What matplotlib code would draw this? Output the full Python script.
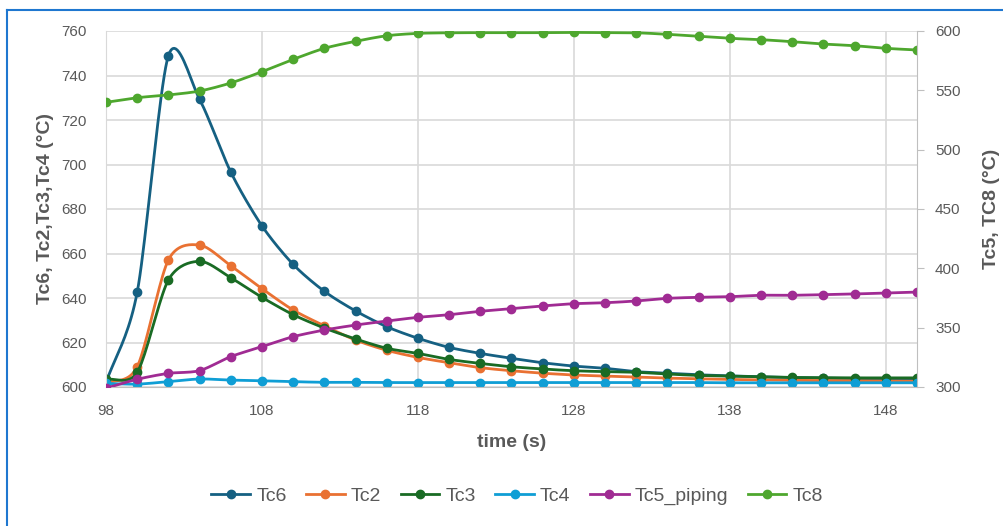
import numpy as np
import matplotlib
matplotlib.use("Agg")
from matplotlib import pyplot as plt
from matplotlib.lines import Line2D

plt.rcParams['font.family'] = ['Liberation Sans', 'DejaVu Sans']

time_s = [98, 100, 102, 104, 106, 108, 110, 112, 114, 116, 118, 120, 122, 124,
          126, 128, 130, 132, 134, 136, 138, 140, 142, 144, 146, 148, 150]

tc6 = [602.0, 642.6, 748.9, 729.3, 696.6, 672.4, 655.1, 643.0, 634.2, 627.1, 621.9, 617.8, 615.1, 612.9,
       610.9, 609.4, 608.4, 606.9, 606.2, 605.5, 605.0, 604.6, 604.2, 604.0, 603.8, 603.6, 603.5]
tc2 = [601.5, 609.1, 657.1, 663.8, 654.5, 644.2, 634.6, 627.5, 621.1, 616.5, 613.3, 610.9, 608.7, 607.3,
       606.2, 605.4, 604.9, 604.5, 604.0, 603.7, 603.4, 603.2, 603.0, 602.9, 602.8, 602.7, 602.6]
tc3 = [603.4, 606.6, 648.1, 656.5, 649.1, 640.3, 632.5, 626.5, 621.6, 617.4, 615.1, 612.4, 610.6, 609.1,
       608.1, 607.3, 606.9, 606.6, 605.8, 605.2, 604.9, 604.6, 604.3, 604.2, 604.1, 604.1, 604.1]
tc4 = [601.6, 601.3, 602.4, 603.6, 603.1, 602.8, 602.4, 602.1, 602.1, 602.0, 602.0, 602.0, 602.0, 602.0,
       602.0, 602.0, 602.0, 602.0, 602.0, 602.0, 601.9, 601.9, 601.9, 601.9, 601.9, 601.9, 601.9]
tc5 = [299.0, 306.5, 311.5, 313.8, 325.6, 334.0, 342.4, 348.0, 352.2, 355.6, 358.7, 360.9, 363.8, 366.0,
       368.3, 370.2, 371.0, 372.5, 374.7, 375.6, 376.1, 377.3, 377.3, 377.8, 378.4, 379.2, 380.0]
tc8 = [539.9, 543.8, 546.1, 549.4, 556.2, 565.7, 576.1, 585.4, 591.3, 596.0, 598.0, 598.5, 598.6, 598.6,
       598.6, 598.8, 598.6, 598.5, 597.2, 595.5, 593.8, 592.7, 591.0, 589.0, 587.6, 585.4, 584.0]

left_names = ['Tc6', 'Tc2', 'Tc3', 'Tc4']
right_names = ['Tc5_piping', 'Tc8']
colors = {'Tc6': '#156082', 'Tc2': '#E97132', 'Tc3': '#196B24',
          'Tc4': '#0F9ED5', 'Tc5_piping': '#A02B93', 'Tc8': '#4EA72E'}


def smooth(x, y, n=20, k=0.42):
    # cardinal spline, close to excel's smoothed line (k=0.5 -> catmull-rom)
    x = np.asarray(x, float)
    y = np.asarray(y, float)
    xp = np.concatenate([[2 * x[0] - x[1]], x, [2 * x[-1] - x[-2]]])
    yp = np.concatenate([[2 * y[0] - y[1]], y, [2 * y[-1] - y[-2]]])
    t = np.linspace(0, 1, n, endpoint=False)
    h00 = 2 * t ** 3 - 3 * t ** 2 + 1
    h10 = t ** 3 - 2 * t ** 2 + t
    h01 = -2 * t ** 3 + 3 * t ** 2
    h11 = t ** 3 - t ** 2
    xs, ys = [], []
    for i in range(1, len(xp) - 2):
        for arr, out in ((xp, xs), (yp, ys)):
            m1 = k * (arr[i + 1] - arr[i - 1])
            m2 = k * (arr[i + 2] - arr[i])
            out.extend(h00 * arr[i] + h10 * m1 + h01 * arr[i + 1] + h11 * m2)
    xs.append(x[-1])
    ys.append(y[-1])
    return np.array(xs), np.array(ys)


fig = plt.figure(figsize=(10.04, 5.26), dpi=100)
ax = fig.add_axes([106 / 1004, 1 - 387 / 526, (917 - 106) / 1004, (387 - 31) / 526])
ax2 = ax.twinx()

series = {'Tc6': tc6, 'Tc2': tc2, 'Tc3': tc3, 'Tc4': tc4, 'Tc5_piping': tc5, 'Tc8': tc8}
handles = []
for name in left_names + right_names:
    a = ax if name in left_names else ax2
    xs, ys = smooth(time_s, series[name])
    a.plot(xs, ys, color=colors[name], lw=2)
    a.plot(time_s, series[name], 'o', color=colors[name], ms=6)
    handles.append(Line2D([], [], color=colors[name], lw=2, marker='o', ms=6))

grey = '#595959'
ax.set_xlim(98, 150)
ax.set_ylim(600, 760)
ax2.set_ylim(300, 600)
ax.set_xticks(np.arange(98, 150, 10))
ax.set_yticks(np.arange(600, 761, 20))
ax2.set_yticks(np.arange(300, 601, 50))
ax.grid(True, color='#d9d9d9', lw=1.2)
ax.set_axisbelow(True)
for a in (ax, ax2):
    for s in a.spines.values():
        s.set_visible(False)
ax.spines['bottom'].set_visible(True)
ax.spines['bottom'].set_color('#bfbfbf')
ax.spines['left'].set_visible(True)
ax.spines['left'].set_color('#d9d9d9')
ax2.spines['right'].set_visible(True)
ax2.spines['right'].set_color('#bfbfbf')
ax.tick_params(axis='both', length=0, labelsize=11, labelcolor=grey)
ax.tick_params(axis='y', pad=14)
ax.tick_params(axis='x', pad=12)
ax2.tick_params(axis='y', length=5, color='#bfbfbf', labelsize=11, labelcolor=grey, pad=8)

ax.set_xlabel('time (s)', fontsize=14, fontweight='bold', color=grey, labelpad=12)
ax.set_ylabel('Tc6, Tc2,Tc3,Tc4 (°C)', fontsize=14, fontweight='bold', color=grey, labelpad=5)
ax2.set_ylabel('Tc5, TC8 (°C)', fontsize=14, fontweight='bold', color=grey, labelpad=16)

fig.legend(handles, left_names + right_names, loc='center', bbox_to_anchor=(0.515, 1 - 496 / 526),
           ncol=6, frameon=False, fontsize=14, labelcolor=grey, handlelength=2.0,
           columnspacing=1.0, handletextpad=0.3)

# blue frame of the chart area
fig.add_artist(Line2D([6.5 / 1004, 6.5 / 1004], [0, 1 - 10 / 526], color='#1f77d0', lw=1.5))
fig.add_artist(Line2D([6.5 / 1004, 1], [1 - 10 / 526, 1 - 10 / 526], color='#1f77d0', lw=1.5))

fig.savefig('out.png', dpi=100)
